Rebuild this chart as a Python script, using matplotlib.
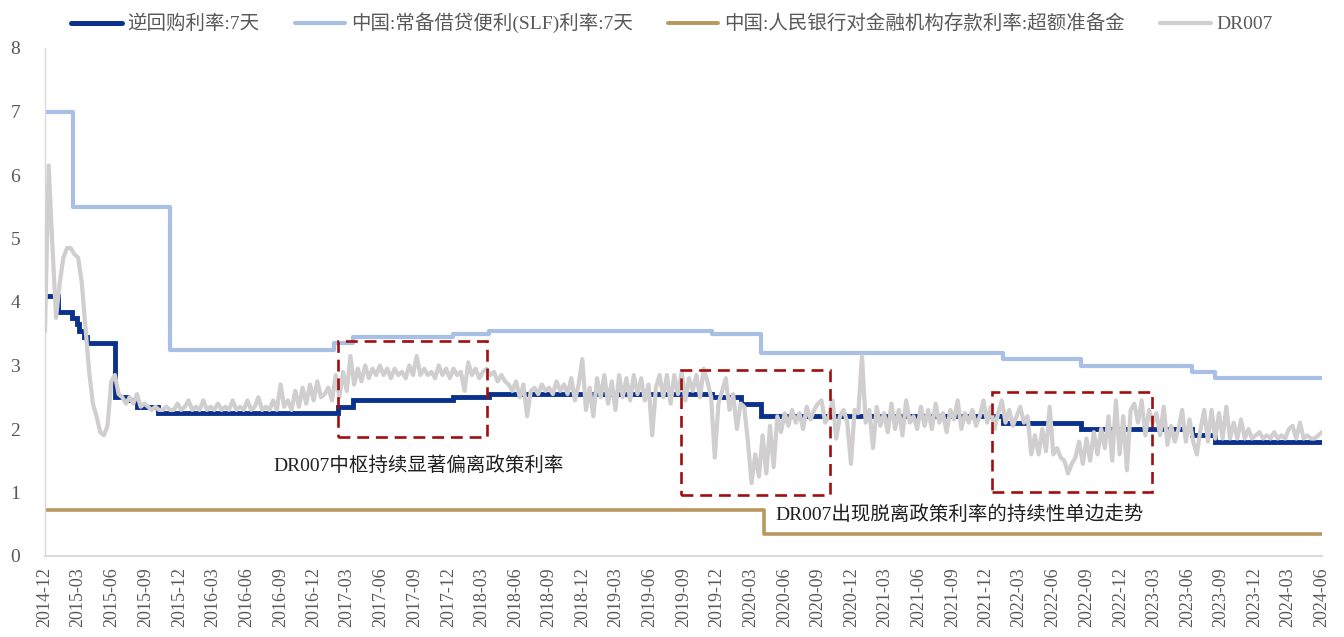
import matplotlib
matplotlib.use("Agg")
import matplotlib.pyplot as plt
import matplotlib.dates as mdates
from matplotlib.patches import Rectangle
from matplotlib.lines import Line2D
import pandas as pd

plt.rcParams["font.family"] = ["Liberation Serif", "Noto Sans CJK SC"]
plt.rcParams["axes.unicode_minus"] = False

# ---- policy rate step series (change dates and new levels, %) ----
repo_dates = ["2014-12-01", "2015-01-05", "2015-02-13", "2015-02-26", "2015-03-04",
              "2015-03-16", "2015-03-26", "2015-06-08", "2015-07-10", "2015-08-07",
              "2015-10-03", "2017-02-03", "2017-03-16", "2017-12-14", "2018-03-22",
              "2019-11-18", "2020-02-03", "2020-03-30", "2022-01-17", "2022-08-15",
              "2023-06-13", "2023-08-15"]
repo_values = [4.10, 3.85, 3.75, 3.65, 3.55, 3.45, 3.35, 2.50, 2.45, 2.35,
               2.25, 2.35, 2.45, 2.50, 2.55, 2.50, 2.40, 2.20, 2.10, 2.00,
               1.90, 1.80]

slf_dates = ["2014-12-01", "2015-02-15", "2015-11-05", "2017-01-24", "2017-03-16",
             "2017-12-14", "2018-03-22", "2019-11-18", "2020-03-30", "2022-01-17",
             "2022-08-15", "2023-06-13", "2023-08-15"]
slf_values = [7.00, 5.50, 3.25, 3.35, 3.45, 3.50, 3.55, 3.50, 3.20, 3.10,
              3.00, 2.90, 2.80]

excess_dates = ["2014-12-01", "2020-04-07"]
excess_values = [0.72, 0.35]

end_date = "2024-06-01"

# ---- DR007, one reading every 10 days from 2014-12-01 ----
dr007_start = "2014-12-01"
dr007_values = [
    3.55, 6.15, 4.90, 3.75, 4.30, 4.70, 4.85, 4.85, 4.75, 4.70,
    4.30, 3.60, 2.90, 2.40, 2.20, 1.95, 1.90, 2.05, 2.75, 2.85,
    2.55, 2.50, 2.40, 2.50, 2.40, 2.55, 2.35, 2.40, 2.35, 2.30,
    2.35, 2.30, 2.30, 2.35, 2.30, 2.30, 2.40, 2.30, 2.35, 2.45,
    2.30, 2.35, 2.30, 2.45, 2.30, 2.35, 2.30, 2.40, 2.30, 2.35,
    2.30, 2.45, 2.30, 2.35, 2.30, 2.45, 2.30, 2.35, 2.50, 2.30,
    2.35, 2.30, 2.45, 2.30, 2.70, 2.35, 2.45, 2.30, 2.60, 2.35,
    2.65, 2.40, 2.70, 2.45, 2.75, 2.50, 2.55, 2.65, 2.45, 2.85,
    2.50, 2.90, 2.60, 3.15, 2.70, 2.95, 2.75, 3.00, 2.80, 2.95,
    2.85, 3.00, 2.85, 2.95, 2.80, 2.95, 2.85, 2.90, 2.80, 3.00,
    2.85, 3.15, 2.85, 2.95, 2.85, 2.90, 2.80, 3.00, 2.85, 2.95,
    2.80, 2.95, 2.85, 2.90, 2.60, 3.05, 2.85, 2.95, 2.80, 2.90,
    2.95, 2.85, 2.90, 2.75, 2.85, 2.75, 2.70, 2.60, 2.75, 2.50,
    2.70, 2.20, 2.60, 2.65, 2.55, 2.70, 2.60, 2.65, 2.55, 2.75,
    2.60, 2.70, 2.55, 2.80, 2.45, 2.70, 3.10, 2.30, 2.65, 2.20,
    2.80, 2.50, 2.85, 2.40, 2.75, 2.30, 2.85, 2.50, 2.80, 2.45,
    2.85, 2.55, 2.80, 2.45, 2.70, 1.90, 2.65, 2.85, 2.50, 2.85,
    2.40, 2.85, 2.55, 2.90, 2.45, 2.80, 2.60, 2.85, 2.50, 2.95,
    2.75, 2.50, 1.55, 2.40, 2.60, 2.80, 2.30, 2.55, 2.00, 2.40,
    2.35, 1.80, 1.15, 1.60, 1.25, 1.90, 1.30, 2.05, 1.40, 2.20,
    1.95, 2.25, 2.05, 2.30, 2.10, 2.25, 2.00, 2.35, 2.15, 2.30,
    2.40, 2.45, 2.10, 2.20, 2.45, 1.85, 2.20, 2.30, 2.10, 1.45,
    2.30, 2.25, 3.15, 2.10, 2.30, 1.70, 2.35, 2.05, 2.25, 1.95,
    2.40, 2.00, 2.30, 1.90, 2.45, 2.10, 2.20, 2.00, 2.35, 2.05,
    2.30, 2.00, 2.40, 2.10, 2.25, 1.95, 2.30, 2.15, 2.45, 2.00,
    2.25, 2.10, 2.30, 2.05, 2.20, 2.45, 2.10, 2.35, 2.00, 2.25,
    2.45, 2.10, 2.30, 2.05, 2.20, 2.35, 2.10, 2.20, 1.60, 1.90,
    1.60, 2.00, 1.65, 2.35, 1.60, 1.70, 1.55, 1.50, 1.30, 1.45,
    1.55, 1.80, 1.45, 1.85, 1.50, 1.95, 1.60, 2.00, 1.70, 2.20,
    1.50, 2.45, 1.60, 2.20, 1.35, 2.30, 2.40, 2.10, 2.45, 1.90,
    2.30, 2.10, 2.25, 1.90, 2.35, 1.75, 2.05, 1.80, 2.00, 2.30,
    1.80, 2.15, 1.80, 1.60, 2.00, 2.30, 1.80, 2.30, 1.85, 2.25,
    1.85, 2.35, 1.85, 2.10, 1.85, 2.15, 1.85, 2.00, 1.85, 1.90,
    1.95, 1.85, 1.90, 1.85, 1.95, 1.85, 1.90, 1.85, 2.00, 2.05,
    1.85, 2.10, 1.85, 1.90, 1.85, 1.85, 1.90, 1.95,
]

series_names = ["逆回购利率:7天", "中国:常备借贷便利(SLF)利率:7天",
                "中国:人民银行对金融机构存款利率:超额准备金", "DR007"]

# ---- annotation boxes and captions ----
box_starts = ["2017-02-05", "2019-08-25", "2021-12-17"]
box_ends = ["2018-03-17", "2020-10-03", "2023-02-25"]
box_lows = [1.87, 0.96, 1.01]
box_highs = [3.39, 2.93, 2.58]

notes = ["DR007中枢持续显著偏离政策利率", "DR007出现脱离政策利率的持续性单边走势"]
note_dates = ["2017-09-10", "2021-09-20"]
note_levels = [1.42, 0.65]


def step_frame(dates, values):
    d = list(pd.to_datetime(dates)) + [pd.Timestamp(end_date)]
    v = list(values) + [values[-1]]
    return d, v


fig = plt.figure(figsize=(13.44, 6.37), dpi=100)
ax = fig.add_axes([45 / 1344, 81 / 637, 1277 / 1344, 508 / 637])

c_repo = "#0B318F"
c_slf = "#A9BFE6"
c_excess = "#B9975F"
c_dr = "#D0CECE"
c_box = "#A00F0F"

d, v = step_frame(repo_dates, repo_values)
ax.plot(d, v, drawstyle="steps-post", color=c_repo, lw=3.5, solid_joinstyle="miter", zorder=3)
d, v = step_frame(slf_dates, slf_values)
ax.plot(d, v, drawstyle="steps-post", color=c_slf, lw=3.0, zorder=2)
d, v = step_frame(excess_dates, excess_values)
ax.plot(d, v, drawstyle="steps-post", color=c_excess, lw=2.6, zorder=2)

dr_dates = pd.date_range(dr007_start, periods=len(dr007_values), freq="10D")
ax.plot(dr_dates, dr007_values, color=c_dr, lw=3.0, solid_joinstyle="round", zorder=4)

for s, e, lo, hi in zip(box_starts, box_ends, box_lows, box_highs):
    x0 = mdates.date2num(pd.Timestamp(s))
    x1 = mdates.date2num(pd.Timestamp(e))
    ax.add_patch(Rectangle((x0, lo), x1 - x0, hi - lo, fill=False, edgecolor=c_box,
                           lw=1.9, linestyle=(0, (4.5, 2.6)), zorder=5))

for t, dt, lvl in zip(notes, note_dates, note_levels):
    ax.text(pd.Timestamp(dt), lvl, t, ha="center", va="center", fontsize=14,
            color="#1F1F1F", zorder=6)

ax.set_xlim(pd.Timestamp(dr007_start), pd.Timestamp(end_date))
ax.set_ylim(0, 8)
ax.set_yticks(range(0, 9))

ticks = pd.date_range("2014-12-01", end_date, freq="3MS")
ax.set_xticks(ticks)
ax.set_xticklabels([t.strftime("%Y-%m") for t in ticks], rotation=90)

ax.tick_params(axis="x", length=0, pad=8, labelsize=13, colors="#595959")
ax.tick_params(axis="y", length=0, pad=18, labelsize=14, colors="#595959")

for side in ["top", "right"]:
    ax.spines[side].set_visible(False)
ax.spines["left"].set_color("#D9D9D9")
ax.spines["left"].set_linewidth(1.0)
ax.spines["bottom"].set_color("#D9D9D9")
ax.spines["bottom"].set_linewidth(1.4)

handles = [Line2D([], [], color=c_repo, lw=3.6, solid_capstyle="round"),
           Line2D([], [], color=c_slf, lw=3.0, solid_capstyle="round"),
           Line2D([], [], color=c_excess, lw=2.8, solid_capstyle="round"),
           Line2D([], [], color=c_dr, lw=3.0, solid_capstyle="round")]
leg = fig.legend(handles, series_names, loc="center", bbox_to_anchor=(0.500, 1 - 23 / 637),
                 ncol=4, frameon=False, fontsize=14, handlelength=2.6, handletextpad=0.3,
                 columnspacing=1.8)
for txt in leg.get_texts():
    txt.set_color("#595959")

fig.savefig("out.png", dpi=100)
